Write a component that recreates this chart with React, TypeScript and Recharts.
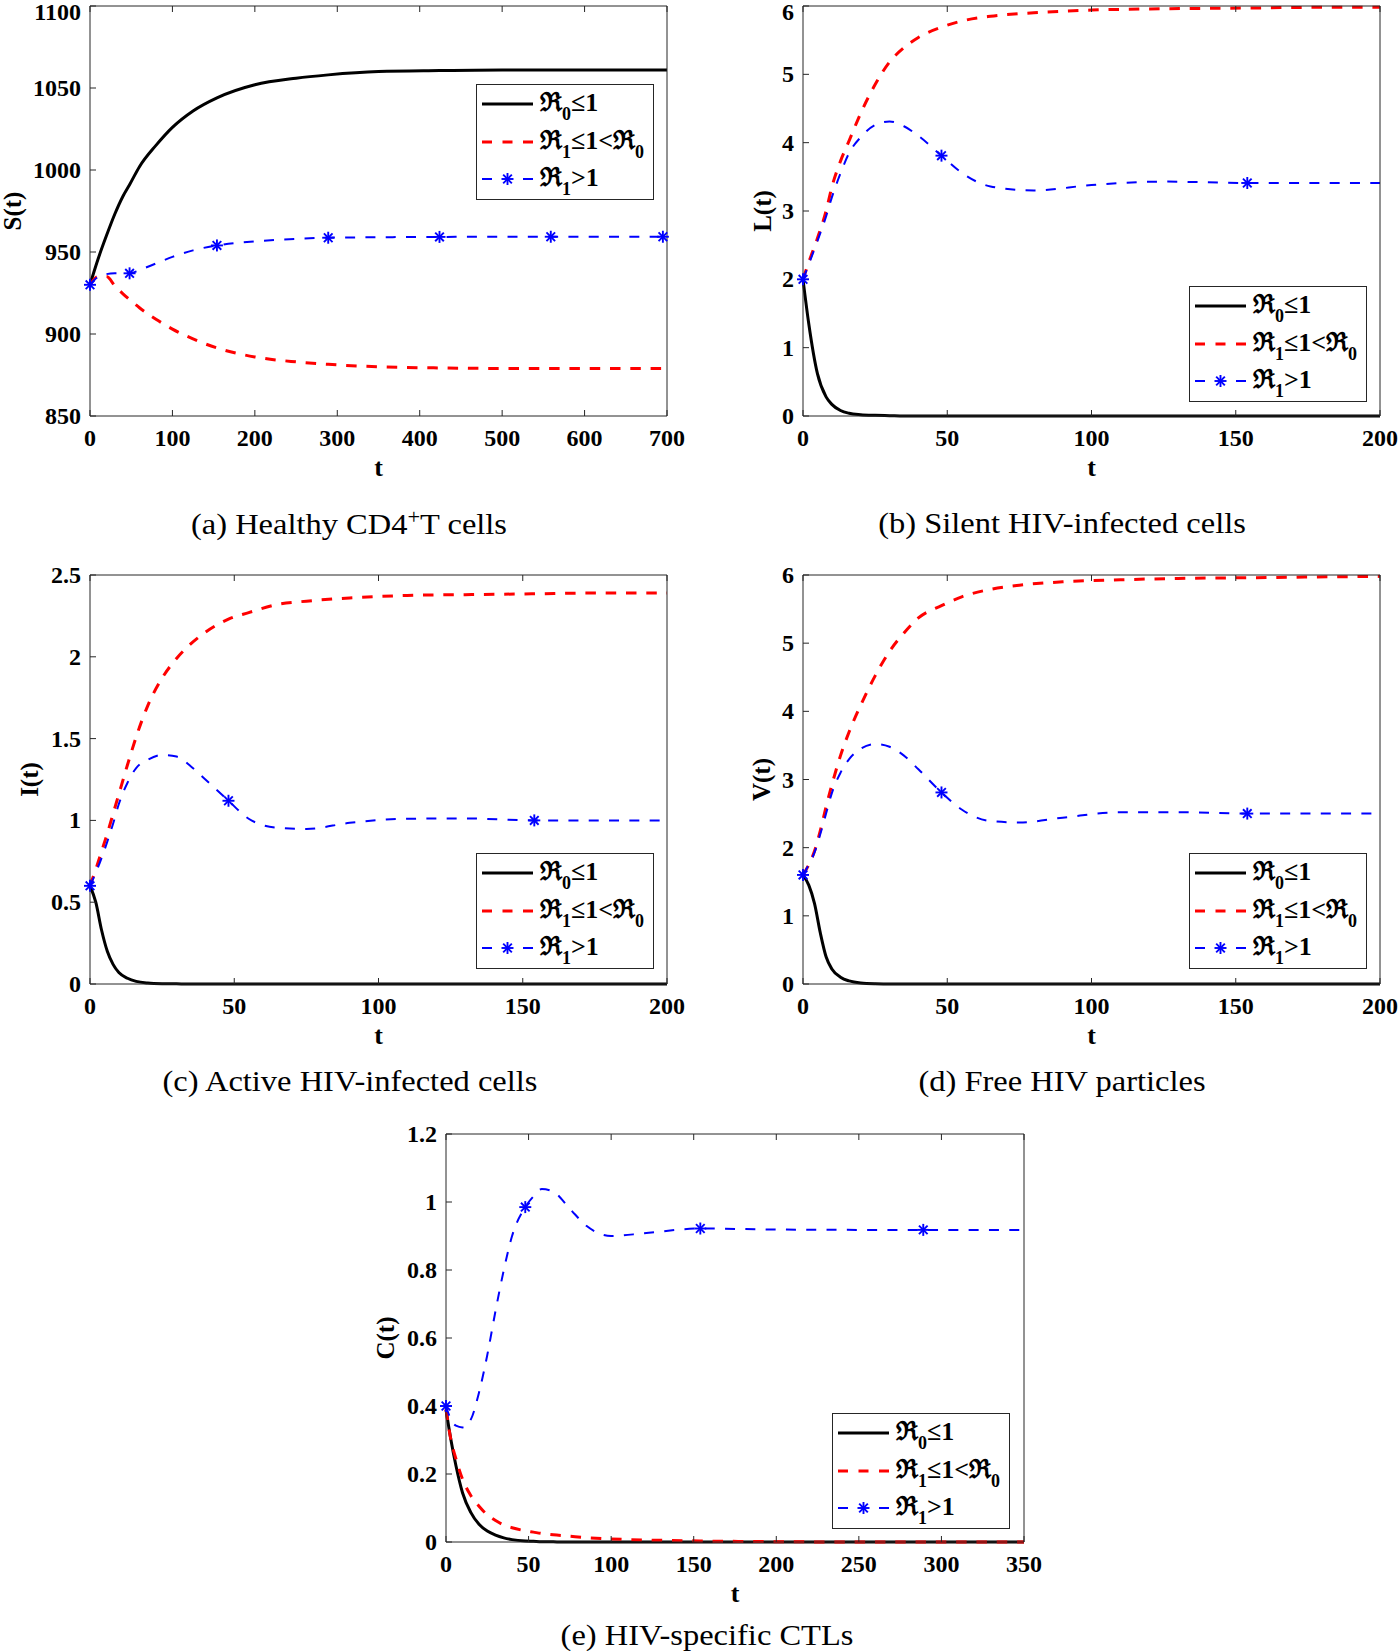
import React from 'react'
import { LineChart, Line, XAxis, YAxis, Legend, Label } from 'recharts'

const FONT = '"Liberation Serif", "Times New Roman", serif'
const AXIS = '#262626'

// (a) S(t) healthy CD4+ T cells
const tS = [0, 10, 20, 30, 40, 48, 60, 80, 100, 125, 154, 200, 250, 289, 350, 424, 500, 559, 630, 695, 700]
const sBlack = [930, 946, 960, 973, 984, 991, 1002, 1015, 1026, 1036, 1044, 1052, 1056, 1058, 1060, 1060.6, 1061, 1061, 1061, 1061, 1061]
const sRed = [930, 935, 935, 929.5, 924.5, 921, 916, 909, 903, 897, 891.5, 886, 883, 881.5, 880, 879.3, 879, 879, 879, 879, 879]
const sBlue = [930, 935, 936.5, 937, 937, 937, 939, 943, 947, 951, 954, 956.5, 958, 958.7, 959, 959.2, 959.3, 959.3, 959.3, 959.3, 959.3]
const sMarks = [0, 48, 154, 289, 424, 559, 695]

// (b) L(t) silent infected cells
const tL = [0, 2, 5, 8, 10, 13, 16, 20, 25, 30, 35, 40, 48, 55, 65, 80, 100, 125, 154, 175, 200]
const lBlack = [2, 1.35, 0.62, 0.28, 0.17, 0.08, 0.04, 0.02, 0.01, 0.005, 0, 0, 0, 0, 0, 0, 0, 0, 0, 0, 0]
const lRed = [2, 2.25, 2.6, 3.0, 3.35, 3.73, 4.03, 4.43, 4.85, 5.18, 5.39, 5.54, 5.69, 5.78, 5.85, 5.9, 5.94, 5.96, 5.97, 5.98, 5.98]
const lBlue = [2, 2.22, 2.56, 2.92, 3.2, 3.55, 3.85, 4.08, 4.26, 4.31, 4.24, 4.1, 3.81, 3.56, 3.36, 3.3, 3.38, 3.43, 3.41, 3.41, 3.41]
const lMarks = [0, 48, 154]

// (c) I(t) active infected cells
const tI = [0, 2, 4, 6, 8, 10, 13, 16, 20, 25, 30, 35, 40, 48, 55, 65, 75, 90, 110, 130, 154, 175, 200]
const iBlack = [0.6, 0.5, 0.33, 0.2, 0.12, 0.07, 0.035, 0.016, 0.006, 0.002, 0.001, 0, 0, 0, 0, 0, 0, 0, 0, 0, 0, 0, 0]
const iRed = [0.6, 0.7, 0.81, 0.92, 1.04, 1.16, 1.34, 1.51, 1.7, 1.87, 1.99, 2.08, 2.15, 2.23, 2.27, 2.32, 2.34, 2.36, 2.375, 2.38, 2.385, 2.39, 2.39]
const iBlue = [0.6, 0.68, 0.77, 0.87, 0.98, 1.1, 1.23, 1.32, 1.37, 1.4, 1.39, 1.33, 1.25, 1.12, 1.01, 0.955, 0.948, 0.985, 1.01, 1.012, 1.0, 1.0, 1.0]
const iMarks = [0, 48, 154]

// (d) V(t) free virus
const tV = [0, 2, 4, 6, 8, 10, 13, 16, 20, 25, 30, 35, 40, 48, 55, 65, 75, 90, 110, 130, 154, 175, 200]
const vBlack = [1.6, 1.45, 1.18, 0.75, 0.4, 0.22, 0.1, 0.045, 0.015, 0.004, 0.001, 0, 0, 0, 0, 0, 0, 0, 0, 0, 0, 0, 0]
const vRed = [1.6, 1.75, 1.95, 2.25, 2.6, 2.92, 3.35, 3.7, 4.09, 4.52, 4.88, 5.15, 5.37, 5.55, 5.68, 5.79, 5.85, 5.9, 5.93, 5.95, 5.96, 5.97, 5.98]
const vBlue = [1.6, 1.75, 1.93, 2.2, 2.5, 2.8, 3.1, 3.3, 3.45, 3.52, 3.48, 3.35, 3.15, 2.81, 2.56, 2.39, 2.37, 2.44, 2.52, 2.52, 2.5, 2.5, 2.5]
const vMarks = [0, 48, 154]

// (e) C(t) CTLs
const tC = [0, 3, 6, 10, 15, 20, 25, 30, 35, 40, 48, 53, 58, 65, 75, 85, 100, 120, 154, 200, 250, 289, 350]
const cBlack = [0.39, 0.3, 0.225, 0.145, 0.087, 0.052, 0.032, 0.02, 0.012, 0.007, 0.003, 0.002, 0.001, 0.0005, 0, 0, 0, 0, 0, 0, 0, 0, 0]
const cRed = [0.39, 0.3, 0.245, 0.185, 0.137, 0.105, 0.08, 0.063, 0.05, 0.042, 0.033, 0.029, 0.025, 0.021, 0.017, 0.013, 0.009, 0.006, 0.003, 0.001, 0, 0, 0]
const cBlue = [0.4, 0.36, 0.342, 0.337, 0.36, 0.44, 0.55, 0.68, 0.8, 0.9, 0.985, 1.017, 1.038, 1.03, 0.98, 0.93, 0.9, 0.908, 0.922, 0.919, 0.918, 0.918, 0.918]
const cMarks = [0, 48, 154, 289]

const ticks200 = [0, 50, 100, 150, 200]
const ticks0to6 = [0, 1, 2, 3, 4, 5, 6]

const Star = ({ cx, cy, r = 6 }: { cx: number; cy: number; r?: number }) => {
  const d = r * 0.72
  return (
    <g stroke="#0000ff" strokeWidth={1.9}>
      <line x1={cx - r} y1={cy} x2={cx + r} y2={cy} />
      <line x1={cx} y1={cy - r} x2={cx} y2={cy + r} />
      <line x1={cx - d} y1={cy - d} x2={cx + d} y2={cy + d} />
      <line x1={cx - d} y1={cy + d} x2={cx + d} y2={cy - d} />
    </g>
  )
}

const starDot = (marks: number[]) => (p: any) => {
  const k = `dot-${p.index}`
  if (!p.payload || !marks.includes(p.payload.t)) return <g key={k} />
  return (
    <g key={k}>
      <Star cx={p.cx} cy={p.cy} />
    </g>
  )
}

const legendText = { fontFamily: FONT, fontWeight: 700, fontSize: 26, fill: '#000' }
const SUB = 18

const LegendBox = () => (
  <svg width={178} height={116} style={{ display: 'block' }}>
    <rect x={0.5} y={0.5} width={177} height={115} fill="#fff" stroke={AXIS} strokeWidth={1} />
    <line x1={6} x2={57} y1={20} y2={20} stroke="#000" strokeWidth={3} />
    <text x={64} y={27} {...legendText}>
      ℜ<tspan dy={9} fontSize={SUB}>0</tspan>
      <tspan dy={-9}>≤1</tspan>
    </text>
    <line x1={6} x2={57} y1={58} y2={58} stroke="#ff0000" strokeWidth={3} strokeDasharray="10 10.5" />
    <text x={64} y={65} {...legendText}>
      ℜ<tspan dy={9} fontSize={SUB}>1</tspan>
      <tspan dy={-9}>≤1&lt;ℜ</tspan>
      <tspan dy={9} fontSize={SUB}>0</tspan>
    </text>
    <line x1={6} x2={16} y1={95} y2={95} stroke="#0000ff" strokeWidth={2} />
    <line x1={47} x2={57} y1={95} y2={95} stroke="#0000ff" strokeWidth={2} />
    <Star cx={31.5} cy={95} r={6} />
    <text x={64} y={102} {...legendText}>
      ℜ<tspan dy={9} fontSize={SUB}>1</tspan>
      <tspan dy={-9}>&gt;1</tspan>
    </text>
  </svg>
)

type PanelProps = {
  t: number[]
  black: number[]
  red: number[]
  blue: number[]
  marks: number[]
  xTicks: number[]
  yTicks: number[]
  yLabel: string
  yLabelGap: number
  left: number
  top: number
  width: number
  height: number
  plot: { x: number; y: number; w: number; h: number }
  legend: { x: number; y: number }
}

const tickStyle = { fill: '#000', fontFamily: FONT, fontSize: 24, fontWeight: 700 }

// y tick labels: the topmost one sits a little lower so it stays on the page
const YTick = (props: any) => {
  const { x, y, payload } = props
  const yy = Math.max(y, 12)
  return (
    <text x={x} y={yy} textAnchor="end" dominantBaseline="central" {...tickStyle}>
      {payload.value}
    </text>
  )
}

const Panel = (p: PanelProps) => {
  const data = p.t.map((t, i) => ({ t, black: p.black[i], red: p.red[i], blue: p.blue[i] }))
  const xDom = [p.xTicks[0], p.xTicks[p.xTicks.length - 1]]
  const yDom = [p.yTicks[0], p.yTicks[p.yTicks.length - 1]]
  const margin = {
    left: p.plot.x - 1,
    top: p.plot.y - 1,
    right: p.width - p.plot.x - p.plot.w - 1,
    bottom: p.height - p.plot.y - p.plot.h - 1,
  }
  const yLab = () => {
    const cx = p.plot.x - p.yLabelGap
    const cy = p.plot.y + p.plot.h / 2
    return (
      <text
        x={cx}
        y={cy}
        transform={`rotate(-90 ${cx} ${cy})`}
        textAnchor="middle"
        dominantBaseline="central"
        fontFamily={FONT}
        fontWeight={700}
        fontSize={25}
        fill="#000"
      >
        {p.yLabel}
      </text>
    )
  }
  return (
    <div style={{ position: 'absolute', left: p.left, top: p.top }}>
      <LineChart width={p.width} height={p.height} data={data} margin={margin}>
        <XAxis
          xAxisId="b"
          dataKey="t"
          type="number"
          domain={xDom}
          ticks={p.xTicks}
          interval={0}
          height={1}
          tickSize={-6}
          tickMargin={19}
          tick={tickStyle}
          axisLine={{ stroke: AXIS, strokeWidth: 1 }}
          tickLine={{ stroke: AXIS, strokeWidth: 1 }}
        >
          <Label value="t" position="bottom" offset={41} style={{ fontFamily: FONT, fontWeight: 700, fontSize: 26, fill: '#000' }} />
        </XAxis>
        <XAxis
          xAxisId="top"
          orientation="top"
          dataKey="t"
          type="number"
          domain={xDom}
          ticks={p.xTicks}
          interval={0}
          height={1}
          tickSize={-6}
          tickFormatter={() => ''}
          axisLine={{ stroke: AXIS, strokeWidth: 1 }}
          tickLine={{ stroke: AXIS, strokeWidth: 1 }}
        />
        <YAxis
          yAxisId="l"
          type="number"
          domain={yDom}
          ticks={p.yTicks}
          interval={0}
          width={1}
          tickSize={-6}
          tickMargin={15}
          tick={<YTick />}
          axisLine={{ stroke: AXIS, strokeWidth: 1 }}
          tickLine={{ stroke: AXIS, strokeWidth: 1 }}
        >
          <Label content={yLab} />
        </YAxis>
        <YAxis
          yAxisId="r"
          orientation="right"
          type="number"
          domain={yDom}
          ticks={p.yTicks}
          interval={0}
          width={1}
          tickSize={-6}
          tickFormatter={() => ''}
          axisLine={{ stroke: AXIS, strokeWidth: 1 }}
          tickLine={{ stroke: AXIS, strokeWidth: 1 }}
        />
        <Line
          xAxisId="b"
          yAxisId="l"
          type="monotone"
          dataKey="black"
          stroke="#000"
          strokeWidth={3}
          dot={false}
          activeDot={false}
          isAnimationActive={false}
        />
        <Line
          xAxisId="b"
          yAxisId="l"
          type="monotone"
          dataKey="red"
          stroke="#ff0000"
          strokeWidth={3}
          strokeDasharray="10.5 9.8"
          dot={false}
          activeDot={false}
          isAnimationActive={false}
        />
        <Line
          xAxisId="b"
          yAxisId="l"
          type="monotone"
          dataKey="blue"
          stroke="#0000ff"
          strokeWidth={2}
          strokeDasharray="10 10.3"
          dot={starDot(p.marks)}
          activeDot={false}
          isAnimationActive={false}
        />
        <Legend
          layout="vertical"
          align="center"
          verticalAlign="middle"
          wrapperStyle={{ left: p.legend.x, top: p.legend.y, width: 178, height: 116 }}
          content={() => <LegendBox />}
        />
      </LineChart>
    </div>
  )
}

const Caption = ({ x, y, children }: { x: number; y: number; children: React.ReactNode }) => (
  <div
    style={{
      position: 'absolute',
      left: x,
      top: y,
      transform: 'translate(-50%, -50%) scaleX(1.12)',
      whiteSpace: 'nowrap',
      fontFamily: FONT,
      fontSize: 29,
      color: '#000',
      lineHeight: 1,
    }}
  >
    {children}
  </div>
)

export default function App() {
  return (
    <div style={{ position: 'absolute', left: 0, top: 0, width: 1400, height: 1651, background: '#fff', overflow: 'hidden' }}>
      <Panel
        t={tS} black={sBlack} red={sRed} blue={sBlue} marks={sMarks}
        xTicks={[0, 100, 200, 300, 400, 500, 600, 700]}
        yTicks={[850, 900, 950, 1000, 1050, 1100]}
        yLabel="S(t)" yLabelGap={78}
        left={0} top={0} width={700} height={545}
        plot={{ x: 90, y: 6, w: 577, h: 410 }}
        legend={{ x: 476, y: 84 }}
      />
      <Panel
        t={tL} black={lBlack} red={lRed} blue={lBlue} marks={lMarks}
        xTicks={ticks200}
        yTicks={ticks0to6}
        yLabel="L(t)" yLabelGap={41}
        left={700} top={0} width={700} height={545}
        plot={{ x: 103, y: 6, w: 577, h: 410 }}
        legend={{ x: 489, y: 286 }}
      />
      <Panel
        t={tI} black={iBlack} red={iRed} blue={iBlue} marks={iMarks}
        xTicks={ticks200}
        yTicks={[0, 0.5, 1, 1.5, 2, 2.5]}
        yLabel="I(t)" yLabelGap={61}
        left={0} top={550} width={700} height={545}
        plot={{ x: 90, y: 25, w: 577, h: 409 }}
        legend={{ x: 476, y: 303 }}
      />
      <Panel
        t={tV} black={vBlack} red={vRed} blue={vBlue} marks={vMarks}
        xTicks={ticks200}
        yTicks={ticks0to6}
        yLabel="V(t)" yLabelGap={42}
        left={700} top={550} width={700} height={545}
        plot={{ x: 103, y: 25, w: 577, h: 409 }}
        legend={{ x: 489, y: 303 }}
      />
      <Panel
        t={tC} black={cBlack} red={cRed} blue={cBlue} marks={cMarks}
        xTicks={[0, 50, 100, 150, 200, 250, 300, 350]}
        yTicks={[0, 0.2, 0.4, 0.6, 0.8, 1, 1.2]}
        yLabel="C(t)" yLabelGap={61}
        left={360} top={1110} width={700} height={541}
        plot={{ x: 86, y: 24, w: 578, h: 408 }}
        legend={{ x: 472, y: 303 }}
      />
      <Caption x={349} y={523}>(a) Healthy CD4<sup style={{ fontSize: 20 }}>+</sup>T cells</Caption>
      <Caption x={1062} y={523}>(b) Silent HIV-infected cells</Caption>
      <Caption x={350} y={1081}>(c) Active HIV-infected cells</Caption>
      <Caption x={1062} y={1081}>(d) Free HIV particles</Caption>
      <Caption x={707} y={1635}>(e) HIV-specific CTLs</Caption>
    </div>
  )
}
